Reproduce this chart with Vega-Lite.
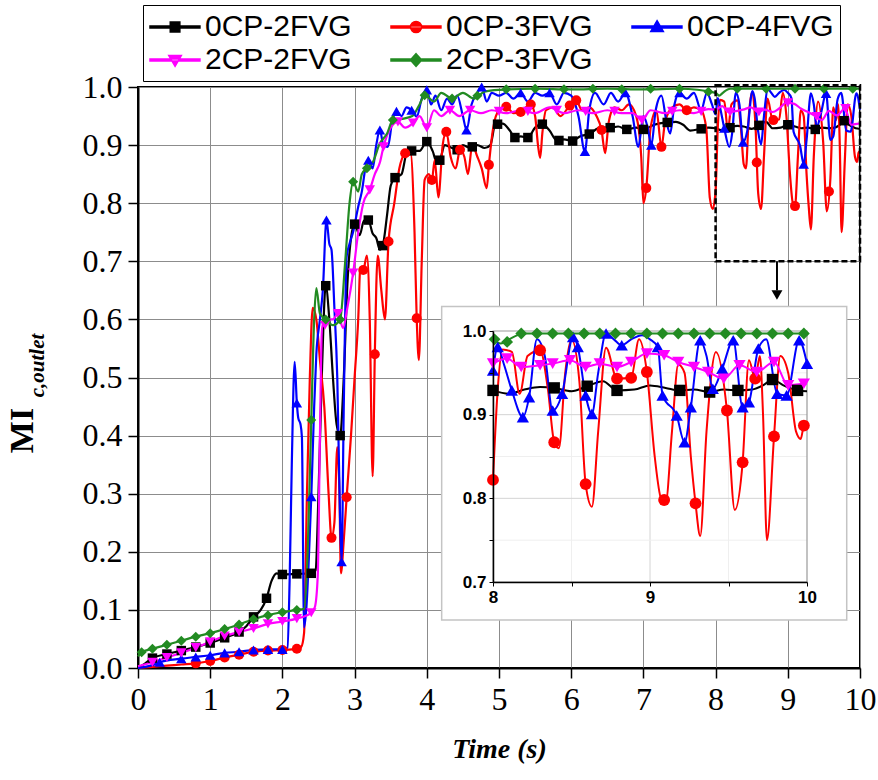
{
"$schema": "https://vega.github.io/schema/vega-lite/v6.json",
"width": 722, "height": 581,
"autosize": "none",
"padding": {"left": 138, "top": 87, "right": 18, "bottom": 112},
"background": "white",
"config": {"view": {"stroke": "black", "strokeWidth": 2}, "axis": {"domainColor": "black", "domainWidth": 2, "tickColor": "black", "tickWidth": 1.5, "labelColor": "black", "titleColor": "black"}},
"datasets": {
"ln": [
{"s":"0CP-2FVG","t":0,"v":0},{"s":"0CP-2FVG","t":0.1,"v":0.008},{"s":"0CP-2FVG","t":0.2,"v":0.017},{"s":"0CP-2FVG","t":0.4,"v":0.024},{"s":"0CP-2FVG","t":0.6,"v":0.03},{"s":"0CP-2FVG","t":0.8,"v":0.036},{"s":"0CP-2FVG","t":1.0,"v":0.043},{"s":"0CP-2FVG","t":1.2,"v":0.052},{"s":"0CP-2FVG","t":1.4,"v":0.062},{"s":"0CP-2FVG","t":1.5,"v":0.072},{"s":"0CP-2FVG","t":1.6,"v":0.088},{"s":"0CP-2FVG","t":1.7,"v":0.1},{"s":"0CP-2FVG","t":1.78,"v":0.12},{"s":"0CP-2FVG","t":1.85,"v":0.15},{"s":"0CP-2FVG","t":1.92,"v":0.163},{"s":"0CP-2FVG","t":2.0,"v":0.161},{"s":"0CP-2FVG","t":2.2,"v":0.162},{"s":"0CP-2FVG","t":2.4,"v":0.163},{"s":"0CP-2FVG","t":2.46,"v":0.168},{"s":"0CP-2FVG","t":2.5,"v":0.3},{"s":"0CP-2FVG","t":2.55,"v":0.52},{"s":"0CP-2FVG","t":2.6,"v":0.658},{"s":"0CP-2FVG","t":2.65,"v":0.6},{"s":"0CP-2FVG","t":2.7,"v":0.5},{"s":"0CP-2FVG","t":2.75,"v":0.42},{"s":"0CP-2FVG","t":2.8,"v":0.4},{"s":"0CP-2FVG","t":2.85,"v":0.5},{"s":"0CP-2FVG","t":2.9,"v":0.66},{"s":"0CP-2FVG","t":2.95,"v":0.74},{"s":"0CP-2FVG","t":3.0,"v":0.764},{"s":"0CP-2FVG","t":3.07,"v":0.745},{"s":"0CP-2FVG","t":3.13,"v":0.77},{"s":"0CP-2FVG","t":3.19,"v":0.771},{"s":"0CP-2FVG","t":3.25,"v":0.748},{"s":"0CP-2FVG","t":3.3,"v":0.74},{"s":"0CP-2FVG","t":3.35,"v":0.72},{"s":"0CP-2FVG","t":3.39,"v":0.727},{"s":"0CP-2FVG","t":3.45,"v":0.78},{"s":"0CP-2FVG","t":3.5,"v":0.83},{"s":"0CP-2FVG","t":3.56,"v":0.844},{"s":"0CP-2FVG","t":3.65,"v":0.85},{"s":"0CP-2FVG","t":3.72,"v":0.885},{"s":"0CP-2FVG","t":3.79,"v":0.89},{"s":"0CP-2FVG","t":3.9,"v":0.89},{"s":"0CP-2FVG","t":4.0,"v":0.906},{"s":"0CP-2FVG","t":4.08,"v":0.89},{"s":"0CP-2FVG","t":4.14,"v":0.87},{"s":"0CP-2FVG","t":4.18,"v":0.874},{"s":"0CP-2FVG","t":4.25,"v":0.9},{"s":"0CP-2FVG","t":4.35,"v":0.895},{"s":"0CP-2FVG","t":4.42,"v":0.892},{"s":"0CP-2FVG","t":4.5,"v":0.9},{"s":"0CP-2FVG","t":4.6,"v":0.895},{"s":"0CP-2FVG","t":4.7,"v":0.9},{"s":"0CP-2FVG","t":4.8,"v":0.895},{"s":"0CP-2FVG","t":4.88,"v":0.9},{"s":"0CP-2FVG","t":4.95,"v":0.936},{"s":"0CP-2FVG","t":5.05,"v":0.937},{"s":"0CP-2FVG","t":5.15,"v":0.925},{"s":"0CP-2FVG","t":5.22,"v":0.913},{"s":"0CP-2FVG","t":5.3,"v":0.915},{"s":"0CP-2FVG","t":5.4,"v":0.913},{"s":"0CP-2FVG","t":5.5,"v":0.93},{"s":"0CP-2FVG","t":5.6,"v":0.936},{"s":"0CP-2FVG","t":5.7,"v":0.925},{"s":"0CP-2FVG","t":5.8,"v":0.908},{"s":"0CP-2FVG","t":5.9,"v":0.91},{"s":"0CP-2FVG","t":6.02,"v":0.907},{"s":"0CP-2FVG","t":6.12,"v":0.915},{"s":"0CP-2FVG","t":6.25,"v":0.919},{"s":"0CP-2FVG","t":6.4,"v":0.93},{"s":"0CP-2FVG","t":6.54,"v":0.93},{"s":"0CP-2FVG","t":6.65,"v":0.932},{"s":"0CP-2FVG","t":6.77,"v":0.927},{"s":"0CP-2FVG","t":6.9,"v":0.93},{"s":"0CP-2FVG","t":7.0,"v":0.927},{"s":"0CP-2FVG","t":7.15,"v":0.935},{"s":"0CP-2FVG","t":7.33,"v":0.939},{"s":"0CP-2FVG","t":7.45,"v":0.94},{"s":"0CP-2FVG","t":7.55,"v":0.935},{"s":"0CP-2FVG","t":7.65,"v":0.925},{"s":"0CP-2FVG","t":7.8,"v":0.928},{"s":"0CP-2FVG","t":7.9,"v":0.93},{"s":"0CP-2FVG","t":8.0,"v":0.929},{"s":"0CP-2FVG","t":8.1,"v":0.925},{"s":"0CP-2FVG","t":8.2,"v":0.93},{"s":"0CP-2FVG","t":8.3,"v":0.933},{"s":"0CP-2FVG","t":8.39,"v":0.932},{"s":"0CP-2FVG","t":8.5,"v":0.928},{"s":"0CP-2FVG","t":8.6,"v":0.934},{"s":"0CP-2FVG","t":8.7,"v":0.94},{"s":"0CP-2FVG","t":8.79,"v":0.929},{"s":"0CP-2FVG","t":8.9,"v":0.93},{"s":"0CP-2FVG","t":9.0,"v":0.935},{"s":"0CP-2FVG","t":9.1,"v":0.932},{"s":"0CP-2FVG","t":9.19,"v":0.929},{"s":"0CP-2FVG","t":9.28,"v":0.93},{"s":"0CP-2FVG","t":9.38,"v":0.927},{"s":"0CP-2FVG","t":9.47,"v":0.93},{"s":"0CP-2FVG","t":9.56,"v":0.929},{"s":"0CP-2FVG","t":9.65,"v":0.93},{"s":"0CP-2FVG","t":9.72,"v":0.935},{"s":"0CP-2FVG","t":9.78,"v":0.942},{"s":"0CP-2FVG","t":9.85,"v":0.935},{"s":"0CP-2FVG","t":9.94,"v":0.929},{"s":"0CP-2FVG","t":10,"v":0.928},
{"s":"0CP-3FVG","t":0,"v":0},{"s":"0CP-3FVG","t":0.2,"v":0.002},{"s":"0CP-3FVG","t":0.4,"v":0.004},{"s":"0CP-3FVG","t":0.6,"v":0.006},{"s":"0CP-3FVG","t":0.8,"v":0.008},{"s":"0CP-3FVG","t":1.0,"v":0.012},{"s":"0CP-3FVG","t":1.2,"v":0.018},{"s":"0CP-3FVG","t":1.4,"v":0.023},{"s":"0CP-3FVG","t":1.6,"v":0.028},{"s":"0CP-3FVG","t":1.8,"v":0.03},{"s":"0CP-3FVG","t":2.0,"v":0.031},{"s":"0CP-3FVG","t":2.2,"v":0.033},{"s":"0CP-3FVG","t":2.26,"v":0.036},{"s":"0CP-3FVG","t":2.3,"v":0.06},{"s":"0CP-3FVG","t":2.34,"v":0.3},{"s":"0CP-3FVG","t":2.38,"v":0.5},{"s":"0CP-3FVG","t":2.42,"v":0.62},{"s":"0CP-3FVG","t":2.47,"v":0.6},{"s":"0CP-3FVG","t":2.52,"v":0.53},{"s":"0CP-3FVG","t":2.58,"v":0.45},{"s":"0CP-3FVG","t":2.64,"v":0.3},{"s":"0CP-3FVG","t":2.68,"v":0.224},{"s":"0CP-3FVG","t":2.72,"v":0.25},{"s":"0CP-3FVG","t":2.76,"v":0.38},{"s":"0CP-3FVG","t":2.79,"v":0.3},{"s":"0CP-3FVG","t":2.81,"v":0.163},{"s":"0CP-3FVG","t":2.85,"v":0.22},{"s":"0CP-3FVG","t":2.89,"v":0.294},{"s":"0CP-3FVG","t":2.95,"v":0.4},{"s":"0CP-3FVG","t":3.0,"v":0.5},{"s":"0CP-3FVG","t":3.05,"v":0.6},{"s":"0CP-3FVG","t":3.08,"v":0.69},{"s":"0CP-3FVG","t":3.12,"v":0.685},{"s":"0CP-3FVG","t":3.17,"v":0.71},{"s":"0CP-3FVG","t":3.21,"v":0.6},{"s":"0CP-3FVG","t":3.25,"v":0.33},{"s":"0CP-3FVG","t":3.28,"v":0.54},{"s":"0CP-3FVG","t":3.32,"v":0.71},{"s":"0CP-3FVG","t":3.37,"v":0.65},{"s":"0CP-3FVG","t":3.42,"v":0.6},{"s":"0CP-3FVG","t":3.47,"v":0.734},{"s":"0CP-3FVG","t":3.55,"v":0.8},{"s":"0CP-3FVG","t":3.62,"v":0.86},{"s":"0CP-3FVG","t":3.7,"v":0.886},{"s":"0CP-3FVG","t":3.77,"v":0.89},{"s":"0CP-3FVG","t":3.83,"v":0.75},{"s":"0CP-3FVG","t":3.86,"v":0.602},{"s":"0CP-3FVG","t":3.89,"v":0.53},{"s":"0CP-3FVG","t":3.93,"v":0.7},{"s":"0CP-3FVG","t":3.97,"v":0.84},{"s":"0CP-3FVG","t":4.03,"v":0.85},{"s":"0CP-3FVG","t":4.07,"v":0.84},{"s":"0CP-3FVG","t":4.11,"v":0.874},{"s":"0CP-3FVG","t":4.16,"v":0.81},{"s":"0CP-3FVG","t":4.22,"v":0.9},{"s":"0CP-3FVG","t":4.27,"v":0.923},{"s":"0CP-3FVG","t":4.33,"v":0.88},{"s":"0CP-3FVG","t":4.4,"v":0.86},{"s":"0CP-3FVG","t":4.46,"v":0.892},{"s":"0CP-3FVG","t":4.52,"v":0.88},{"s":"0CP-3FVG","t":4.57,"v":0.85},{"s":"0CP-3FVG","t":4.63,"v":0.9},{"s":"0CP-3FVG","t":4.7,"v":0.88},{"s":"0CP-3FVG","t":4.76,"v":0.86},{"s":"0CP-3FVG","t":4.83,"v":0.826},{"s":"0CP-3FVG","t":4.86,"v":0.866},{"s":"0CP-3FVG","t":4.92,"v":0.93},{"s":"0CP-3FVG","t":5.0,"v":0.96},{"s":"0CP-3FVG","t":5.1,"v":0.966},{"s":"0CP-3FVG","t":5.2,"v":0.955},{"s":"0CP-3FVG","t":5.3,"v":0.957},{"s":"0CP-3FVG","t":5.37,"v":0.965},{"s":"0CP-3FVG","t":5.44,"v":0.97},{"s":"0CP-3FVG","t":5.5,"v":0.95},{"s":"0CP-3FVG","t":5.54,"v":0.9},{"s":"0CP-3FVG","t":5.57,"v":0.878},{"s":"0CP-3FVG","t":5.6,"v":0.92},{"s":"0CP-3FVG","t":5.65,"v":0.96},{"s":"0CP-3FVG","t":5.75,"v":0.965},{"s":"0CP-3FVG","t":5.85,"v":0.95},{"s":"0CP-3FVG","t":5.98,"v":0.968},{"s":"0CP-3FVG","t":6.07,"v":0.977},{"s":"0CP-3FVG","t":6.15,"v":0.96},{"s":"0CP-3FVG","t":6.25,"v":0.965},{"s":"0CP-3FVG","t":6.35,"v":0.95},{"s":"0CP-3FVG","t":6.42,"v":0.926},{"s":"0CP-3FVG","t":6.47,"v":0.886},{"s":"0CP-3FVG","t":6.52,"v":0.94},{"s":"0CP-3FVG","t":6.6,"v":0.965},{"s":"0CP-3FVG","t":6.7,"v":0.96},{"s":"0CP-3FVG","t":6.8,"v":0.97},{"s":"0CP-3FVG","t":6.9,"v":0.95},{"s":"0CP-3FVG","t":6.97,"v":0.88},{"s":"0CP-3FVG","t":7.0,"v":0.8},{"s":"0CP-3FVG","t":7.04,"v":0.826},{"s":"0CP-3FVG","t":7.1,"v":0.93},{"s":"0CP-3FVG","t":7.18,"v":0.96},{"s":"0CP-3FVG","t":7.25,"v":0.897},{"s":"0CP-3FVG","t":7.3,"v":0.94},{"s":"0CP-3FVG","t":7.4,"v":0.965},{"s":"0CP-3FVG","t":7.5,"v":0.97},{"s":"0CP-3FVG","t":7.6,"v":0.96},{"s":"0CP-3FVG","t":7.7,"v":0.965},{"s":"0CP-3FVG","t":7.8,"v":0.96},{"s":"0CP-3FVG","t":7.87,"v":0.93},{"s":"0CP-3FVG","t":7.92,"v":0.809},{"s":"0CP-3FVG","t":7.96,"v":0.79},{"s":"0CP-3FVG","t":8.0,"v":0.822},{"s":"0CP-3FVG","t":8.03,"v":0.93},{"s":"0CP-3FVG","t":8.06,"v":0.978},{"s":"0CP-3FVG","t":8.12,"v":0.975},{"s":"0CP-3FVG","t":8.17,"v":0.925},{"s":"0CP-3FVG","t":8.22,"v":0.97},{"s":"0CP-3FVG","t":8.3,"v":0.977},{"s":"0CP-3FVG","t":8.35,"v":0.93},{"s":"0CP-3FVG","t":8.39,"v":0.867},{"s":"0CP-3FVG","t":8.42,"v":0.86},{"s":"0CP-3FVG","t":8.46,"v":0.95},{"s":"0CP-3FVG","t":8.5,"v":0.99},{"s":"0CP-3FVG","t":8.55,"v":0.94},{"s":"0CP-3FVG","t":8.59,"v":0.817},{"s":"0CP-3FVG","t":8.63,"v":0.79},{"s":"0CP-3FVG","t":8.67,"v":0.88},{"s":"0CP-3FVG","t":8.72,"v":0.98},{"s":"0CP-3FVG","t":8.79,"v":0.943},{"s":"0CP-3FVG","t":8.88,"v":0.944},{"s":"0CP-3FVG","t":8.93,"v":0.99},{"s":"0CP-3FVG","t":8.98,"v":0.951},{"s":"0CP-3FVG","t":9.03,"v":0.85},{"s":"0CP-3FVG","t":9.07,"v":0.8},{"s":"0CP-3FVG","t":9.1,"v":0.795},{"s":"0CP-3FVG","t":9.14,"v":0.88},{"s":"0CP-3FVG","t":9.18,"v":0.96},{"s":"0CP-3FVG","t":9.22,"v":0.95},{"s":"0CP-3FVG","t":9.26,"v":0.85},{"s":"0CP-3FVG","t":9.29,"v":0.794},{"s":"0CP-3FVG","t":9.32,"v":0.755},{"s":"0CP-3FVG","t":9.36,"v":0.88},{"s":"0CP-3FVG","t":9.42,"v":0.975},{"s":"0CP-3FVG","t":9.49,"v":0.905},{"s":"0CP-3FVG","t":9.54,"v":0.786},{"s":"0CP-3FVG","t":9.59,"v":0.843},{"s":"0CP-3FVG","t":9.63,"v":0.965},{"s":"0CP-3FVG","t":9.67,"v":0.943},{"s":"0CP-3FVG","t":9.7,"v":0.97},{"s":"0CP-3FVG","t":9.72,"v":0.9},{"s":"0CP-3FVG","t":9.745,"v":0.75},{"s":"0CP-3FVG","t":9.79,"v":0.874},{"s":"0CP-3FVG","t":9.83,"v":0.97},{"s":"0CP-3FVG","t":9.88,"v":0.95},{"s":"0CP-3FVG","t":9.93,"v":0.88},{"s":"0CP-3FVG","t":9.96,"v":0.871},{"s":"0CP-3FVG","t":9.98,"v":0.887},{"s":"0CP-3FVG","t":10,"v":0.89},
{"s":"0CP-4FVG","t":0,"v":0},{"s":"0CP-4FVG","t":0.2,"v":0.005},{"s":"0CP-4FVG","t":0.3,"v":0.01},{"s":"0CP-4FVG","t":0.6,"v":0.016},{"s":"0CP-4FVG","t":0.8,"v":0.019},{"s":"0CP-4FVG","t":1.0,"v":0.022},{"s":"0CP-4FVG","t":1.2,"v":0.026},{"s":"0CP-4FVG","t":1.4,"v":0.028},{"s":"0CP-4FVG","t":1.6,"v":0.031},{"s":"0CP-4FVG","t":1.8,"v":0.032},{"s":"0CP-4FVG","t":2.0,"v":0.032},{"s":"0CP-4FVG","t":2.07,"v":0.035},{"s":"0CP-4FVG","t":2.1,"v":0.15},{"s":"0CP-4FVG","t":2.13,"v":0.35},{"s":"0CP-4FVG","t":2.17,"v":0.527},{"s":"0CP-4FVG","t":2.2,"v":0.456},{"s":"0CP-4FVG","t":2.22,"v":0.43},{"s":"0CP-4FVG","t":2.25,"v":0.42},{"s":"0CP-4FVG","t":2.27,"v":0.398},{"s":"0CP-4FVG","t":2.3,"v":0.07},{"s":"0CP-4FVG","t":2.33,"v":0.1},{"s":"0CP-4FVG","t":2.37,"v":0.2},{"s":"0CP-4FVG","t":2.4,"v":0.295},{"s":"0CP-4FVG","t":2.44,"v":0.45},{"s":"0CP-4FVG","t":2.47,"v":0.54},{"s":"0CP-4FVG","t":2.52,"v":0.6},{"s":"0CP-4FVG","t":2.56,"v":0.65},{"s":"0CP-4FVG","t":2.61,"v":0.771},{"s":"0CP-4FVG","t":2.65,"v":0.73},{"s":"0CP-4FVG","t":2.68,"v":0.72},{"s":"0CP-4FVG","t":2.72,"v":0.62},{"s":"0CP-4FVG","t":2.76,"v":0.5},{"s":"0CP-4FVG","t":2.8,"v":0.25},{"s":"0CP-4FVG","t":2.82,"v":0.183},{"s":"0CP-4FVG","t":2.85,"v":0.45},{"s":"0CP-4FVG","t":2.89,"v":0.708},{"s":"0CP-4FVG","t":2.93,"v":0.73},{"s":"0CP-4FVG","t":2.98,"v":0.751},{"s":"0CP-4FVG","t":3.05,"v":0.794},{"s":"0CP-4FVG","t":3.1,"v":0.82},{"s":"0CP-4FVG","t":3.15,"v":0.86},{"s":"0CP-4FVG","t":3.19,"v":0.874},{"s":"0CP-4FVG","t":3.25,"v":0.86},{"s":"0CP-4FVG","t":3.3,"v":0.9},{"s":"0CP-4FVG","t":3.35,"v":0.926},{"s":"0CP-4FVG","t":3.4,"v":0.9},{"s":"0CP-4FVG","t":3.46,"v":0.897},{"s":"0CP-4FVG","t":3.52,"v":0.94},{"s":"0CP-4FVG","t":3.58,"v":0.958},{"s":"0CP-4FVG","t":3.65,"v":0.95},{"s":"0CP-4FVG","t":3.72,"v":0.965},{"s":"0CP-4FVG","t":3.79,"v":0.96},{"s":"0CP-4FVG","t":3.86,"v":0.949},{"s":"0CP-4FVG","t":3.93,"v":0.98},{"s":"0CP-4FVG","t":4.0,"v":0.995},{"s":"0CP-4FVG","t":4.06,"v":0.97},{"s":"0CP-4FVG","t":4.12,"v":0.985},{"s":"0CP-4FVG","t":4.2,"v":0.96},{"s":"0CP-4FVG","t":4.28,"v":0.98},{"s":"0CP-4FVG","t":4.35,"v":0.97},{"s":"0CP-4FVG","t":4.42,"v":0.985},{"s":"0CP-4FVG","t":4.5,"v":0.95},{"s":"0CP-4FVG","t":4.55,"v":0.926},{"s":"0CP-4FVG","t":4.62,"v":0.97},{"s":"0CP-4FVG","t":4.7,"v":0.99},{"s":"0CP-4FVG","t":4.76,"v":1.0},{"s":"0CP-4FVG","t":4.83,"v":0.975},{"s":"0CP-4FVG","t":4.9,"v":0.99},{"s":"0CP-4FVG","t":5.0,"v":0.985},{"s":"0CP-4FVG","t":5.1,"v":0.99},{"s":"0CP-4FVG","t":5.2,"v":0.98},{"s":"0CP-4FVG","t":5.3,"v":0.99},{"s":"0CP-4FVG","t":5.4,"v":0.975},{"s":"0CP-4FVG","t":5.5,"v":0.99},{"s":"0CP-4FVG","t":5.6,"v":0.985},{"s":"0CP-4FVG","t":5.7,"v":0.99},{"s":"0CP-4FVG","t":5.8,"v":0.97},{"s":"0CP-4FVG","t":5.9,"v":0.99},{"s":"0CP-4FVG","t":6.0,"v":0.985},{"s":"0CP-4FVG","t":6.1,"v":0.95},{"s":"0CP-4FVG","t":6.19,"v":0.889},{"s":"0CP-4FVG","t":6.25,"v":0.96},{"s":"0CP-4FVG","t":6.33,"v":0.99},{"s":"0CP-4FVG","t":6.45,"v":0.97},{"s":"0CP-4FVG","t":6.55,"v":0.99},{"s":"0CP-4FVG","t":6.65,"v":0.975},{"s":"0CP-4FVG","t":6.75,"v":0.99},{"s":"0CP-4FVG","t":6.85,"v":0.95},{"s":"0CP-4FVG","t":6.93,"v":0.897},{"s":"0CP-4FVG","t":7.0,"v":0.95},{"s":"0CP-4FVG","t":7.06,"v":0.93},{"s":"0CP-4FVG","t":7.11,"v":0.9},{"s":"0CP-4FVG","t":7.17,"v":0.96},{"s":"0CP-4FVG","t":7.25,"v":0.985},{"s":"0CP-4FVG","t":7.32,"v":0.94},{"s":"0CP-4FVG","t":7.37,"v":0.92},{"s":"0CP-4FVG","t":7.43,"v":0.97},{"s":"0CP-4FVG","t":7.5,"v":0.99},{"s":"0CP-4FVG","t":7.6,"v":0.98},{"s":"0CP-4FVG","t":7.7,"v":0.99},{"s":"0CP-4FVG","t":7.8,"v":0.96},{"s":"0CP-4FVG","t":7.88,"v":0.99},{"s":"0CP-4FVG","t":7.95,"v":0.97},{"s":"0CP-4FVG","t":8.0,"v":0.953},{"s":"0CP-4FVG","t":8.03,"v":0.981},{"s":"0CP-4FVG","t":8.07,"v":0.96},{"s":"0CP-4FVG","t":8.12,"v":0.929},{"s":"0CP-4FVG","t":8.19,"v":0.897},{"s":"0CP-4FVG","t":8.23,"v":0.921},{"s":"0CP-4FVG","t":8.28,"v":0.99},{"s":"0CP-4FVG","t":8.33,"v":0.97},{"s":"0CP-4FVG","t":8.38,"v":0.905},{"s":"0CP-4FVG","t":8.44,"v":0.925},{"s":"0CP-4FVG","t":8.51,"v":0.993},{"s":"0CP-4FVG","t":8.54,"v":0.981},{"s":"0CP-4FVG","t":8.59,"v":0.923},{"s":"0CP-4FVG","t":8.63,"v":0.901},{"s":"0CP-4FVG","t":8.67,"v":0.95},{"s":"0CP-4FVG","t":8.72,"v":0.997},{"s":"0CP-4FVG","t":8.77,"v":0.99},{"s":"0CP-4FVG","t":8.82,"v":0.983},{"s":"0CP-4FVG","t":8.88,"v":0.99},{"s":"0CP-4FVG","t":8.95,"v":0.995},{"s":"0CP-4FVG","t":9.0,"v":0.99},{"s":"0CP-4FVG","t":9.05,"v":0.981},{"s":"0CP-4FVG","t":9.08,"v":0.923},{"s":"0CP-4FVG","t":9.17,"v":0.899},{"s":"0CP-4FVG","t":9.22,"v":0.867},{"s":"0CP-4FVG","t":9.26,"v":0.909},{"s":"0CP-4FVG","t":9.32,"v":0.989},{"s":"0CP-4FVG","t":9.36,"v":0.97},{"s":"0CP-4FVG","t":9.4,"v":0.931},{"s":"0CP-4FVG","t":9.46,"v":0.955},{"s":"0CP-4FVG","t":9.53,"v":0.989},{"s":"0CP-4FVG","t":9.59,"v":0.909},{"s":"0CP-4FVG","t":9.63,"v":0.915},{"s":"0CP-4FVG","t":9.69,"v":0.979},{"s":"0CP-4FVG","t":9.74,"v":0.99},{"s":"0CP-4FVG","t":9.81,"v":0.925},{"s":"0CP-4FVG","t":9.87,"v":0.923},{"s":"0CP-4FVG","t":9.95,"v":0.989},{"s":"0CP-4FVG","t":10,"v":0.961},
{"s":"2CP-2FVG","t":0,"v":0.003},{"s":"2CP-2FVG","t":0.2,"v":0.01},{"s":"2CP-2FVG","t":0.4,"v":0.018},{"s":"2CP-2FVG","t":0.6,"v":0.026},{"s":"2CP-2FVG","t":0.8,"v":0.035},{"s":"2CP-2FVG","t":1.0,"v":0.045},{"s":"2CP-2FVG","t":1.2,"v":0.055},{"s":"2CP-2FVG","t":1.4,"v":0.062},{"s":"2CP-2FVG","t":1.6,"v":0.068},{"s":"2CP-2FVG","t":1.8,"v":0.076},{"s":"2CP-2FVG","t":2.0,"v":0.08},{"s":"2CP-2FVG","t":2.2,"v":0.085},{"s":"2CP-2FVG","t":2.4,"v":0.095},{"s":"2CP-2FVG","t":2.45,"v":0.105},{"s":"2CP-2FVG","t":2.49,"v":0.16},{"s":"2CP-2FVG","t":2.52,"v":0.4},{"s":"2CP-2FVG","t":2.55,"v":0.59},{"s":"2CP-2FVG","t":2.59,"v":0.59},{"s":"2CP-2FVG","t":2.65,"v":0.6},{"s":"2CP-2FVG","t":2.7,"v":0.6},{"s":"2CP-2FVG","t":2.77,"v":0.61},{"s":"2CP-2FVG","t":2.84,"v":0.585},{"s":"2CP-2FVG","t":2.9,"v":0.62},{"s":"2CP-2FVG","t":2.98,"v":0.68},{"s":"2CP-2FVG","t":3.05,"v":0.75},{"s":"2CP-2FVG","t":3.12,"v":0.8},{"s":"2CP-2FVG","t":3.21,"v":0.823},{"s":"2CP-2FVG","t":3.28,"v":0.85},{"s":"2CP-2FVG","t":3.35,"v":0.87},{"s":"2CP-2FVG","t":3.4,"v":0.897},{"s":"2CP-2FVG","t":3.5,"v":0.93},{"s":"2CP-2FVG","t":3.6,"v":0.94},{"s":"2CP-2FVG","t":3.7,"v":0.93},{"s":"2CP-2FVG","t":3.81,"v":0.938},{"s":"2CP-2FVG","t":3.9,"v":0.95},{"s":"2CP-2FVG","t":4.0,"v":0.93},{"s":"2CP-2FVG","t":4.1,"v":0.96},{"s":"2CP-2FVG","t":4.2,"v":0.95},{"s":"2CP-2FVG","t":4.32,"v":0.96},{"s":"2CP-2FVG","t":4.45,"v":0.95},{"s":"2CP-2FVG","t":4.6,"v":0.96},{"s":"2CP-2FVG","t":4.75,"v":0.955},{"s":"2CP-2FVG","t":4.9,"v":0.96},{"s":"2CP-2FVG","t":5.1,"v":0.955},{"s":"2CP-2FVG","t":5.3,"v":0.96},{"s":"2CP-2FVG","t":5.5,"v":0.955},{"s":"2CP-2FVG","t":5.7,"v":0.965},{"s":"2CP-2FVG","t":5.9,"v":0.955},{"s":"2CP-2FVG","t":6.1,"v":0.96},{"s":"2CP-2FVG","t":6.3,"v":0.955},{"s":"2CP-2FVG","t":6.5,"v":0.96},{"s":"2CP-2FVG","t":6.7,"v":0.955},{"s":"2CP-2FVG","t":6.85,"v":0.955},{"s":"2CP-2FVG","t":6.98,"v":0.943},{"s":"2CP-2FVG","t":7.1,"v":0.96},{"s":"2CP-2FVG","t":7.3,"v":0.955},{"s":"2CP-2FVG","t":7.5,"v":0.96},{"s":"2CP-2FVG","t":7.7,"v":0.955},{"s":"2CP-2FVG","t":7.9,"v":0.962},{"s":"2CP-2FVG","t":8.0,"v":0.961},{"s":"2CP-2FVG","t":8.09,"v":0.967},{"s":"2CP-2FVG","t":8.18,"v":0.957},{"s":"2CP-2FVG","t":8.3,"v":0.959},{"s":"2CP-2FVG","t":8.38,"v":0.961},{"s":"2CP-2FVG","t":8.49,"v":0.965},{"s":"2CP-2FVG","t":8.59,"v":0.957},{"s":"2CP-2FVG","t":8.68,"v":0.961},{"s":"2CP-2FVG","t":8.79,"v":0.957},{"s":"2CP-2FVG","t":8.88,"v":0.963},{"s":"2CP-2FVG","t":8.98,"v":0.973},{"s":"2CP-2FVG","t":9.09,"v":0.971},{"s":"2CP-2FVG","t":9.18,"v":0.963},{"s":"2CP-2FVG","t":9.28,"v":0.957},{"s":"2CP-2FVG","t":9.37,"v":0.951},{"s":"2CP-2FVG","t":9.47,"v":0.943},{"s":"2CP-2FVG","t":9.57,"v":0.959},{"s":"2CP-2FVG","t":9.68,"v":0.951},{"s":"2CP-2FVG","t":9.79,"v":0.963},{"s":"2CP-2FVG","t":9.88,"v":0.935},{"s":"2CP-2FVG","t":9.98,"v":0.937},{"s":"2CP-2FVG","t":10,"v":0.937},
{"s":"2CP-3FVG","t":0,"v":0.02},{"s":"2CP-3FVG","t":0.05,"v":0.027},{"s":"2CP-3FVG","t":0.2,"v":0.033},{"s":"2CP-3FVG","t":0.4,"v":0.04},{"s":"2CP-3FVG","t":0.6,"v":0.047},{"s":"2CP-3FVG","t":0.8,"v":0.054},{"s":"2CP-3FVG","t":1.0,"v":0.06},{"s":"2CP-3FVG","t":1.2,"v":0.067},{"s":"2CP-3FVG","t":1.4,"v":0.075},{"s":"2CP-3FVG","t":1.6,"v":0.084},{"s":"2CP-3FVG","t":1.8,"v":0.091},{"s":"2CP-3FVG","t":2.0,"v":0.096},{"s":"2CP-3FVG","t":2.2,"v":0.1},{"s":"2CP-3FVG","t":2.3,"v":0.102},{"s":"2CP-3FVG","t":2.35,"v":0.2},{"s":"2CP-3FVG","t":2.4,"v":0.427},{"s":"2CP-3FVG","t":2.44,"v":0.6},{"s":"2CP-3FVG","t":2.47,"v":0.654},{"s":"2CP-3FVG","t":2.52,"v":0.61},{"s":"2CP-3FVG","t":2.6,"v":0.6},{"s":"2CP-3FVG","t":2.7,"v":0.59},{"s":"2CP-3FVG","t":2.8,"v":0.6},{"s":"2CP-3FVG","t":2.87,"v":0.7},{"s":"2CP-3FVG","t":2.93,"v":0.8},{"s":"2CP-3FVG","t":2.98,"v":0.837},{"s":"2CP-3FVG","t":3.05,"v":0.82},{"s":"2CP-3FVG","t":3.1,"v":0.85},{"s":"2CP-3FVG","t":3.17,"v":0.86},{"s":"2CP-3FVG","t":3.25,"v":0.87},{"s":"2CP-3FVG","t":3.35,"v":0.903},{"s":"2CP-3FVG","t":3.45,"v":0.92},{"s":"2CP-3FVG","t":3.53,"v":0.943},{"s":"2CP-3FVG","t":3.65,"v":0.945},{"s":"2CP-3FVG","t":3.8,"v":0.95},{"s":"2CP-3FVG","t":3.9,"v":0.97},{"s":"2CP-3FVG","t":3.97,"v":0.986},{"s":"2CP-3FVG","t":4.1,"v":0.975},{"s":"2CP-3FVG","t":4.2,"v":0.99},{"s":"2CP-3FVG","t":4.35,"v":0.98},{"s":"2CP-3FVG","t":4.5,"v":0.99},{"s":"2CP-3FVG","t":4.65,"v":0.98},{"s":"2CP-3FVG","t":4.8,"v":0.992},{"s":"2CP-3FVG","t":5.0,"v":0.995},{"s":"2CP-3FVG","t":5.5,"v":0.997},{"s":"2CP-3FVG","t":6.0,"v":0.996},{"s":"2CP-3FVG","t":6.5,"v":0.997},{"s":"2CP-3FVG","t":7.0,"v":0.996},{"s":"2CP-3FVG","t":7.5,"v":0.997},{"s":"2CP-3FVG","t":8.0,"v":0.99},{"s":"2CP-3FVG","t":8.05,"v":0.985},{"s":"2CP-3FVG","t":8.1,"v":0.99},{"s":"2CP-3FVG","t":8.2,"v":0.997},{"s":"2CP-3FVG","t":8.5,"v":0.997},{"s":"2CP-3FVG","t":9.0,"v":0.997},{"s":"2CP-3FVG","t":9.5,"v":0.997},{"s":"2CP-3FVG","t":10,"v":0.997}
],
"mm": [
{"s":"0CP-2FVG","t":0.2,"v":0.017},{"s":"0CP-2FVG","t":0.4,"v":0.024},{"s":"0CP-2FVG","t":0.6,"v":0.03},{"s":"0CP-2FVG","t":0.8,"v":0.036},{"s":"0CP-2FVG","t":1.0,"v":0.043},{"s":"0CP-2FVG","t":1.2,"v":0.052},{"s":"0CP-2FVG","t":1.4,"v":0.062},{"s":"0CP-2FVG","t":1.6,"v":0.088},{"s":"0CP-2FVG","t":1.78,"v":0.12},{"s":"0CP-2FVG","t":2.0,"v":0.161},{"s":"0CP-2FVG","t":2.2,"v":0.162},{"s":"0CP-2FVG","t":2.4,"v":0.163},{"s":"0CP-2FVG","t":2.6,"v":0.658},{"s":"0CP-2FVG","t":2.8,"v":0.4},{"s":"0CP-2FVG","t":3.0,"v":0.764},{"s":"0CP-2FVG","t":3.19,"v":0.771},{"s":"0CP-2FVG","t":3.39,"v":0.727},{"s":"0CP-2FVG","t":3.56,"v":0.844},{"s":"0CP-2FVG","t":3.79,"v":0.89},{"s":"0CP-2FVG","t":4.0,"v":0.906},{"s":"0CP-2FVG","t":4.18,"v":0.874},{"s":"0CP-2FVG","t":4.42,"v":0.892},{"s":"0CP-2FVG","t":4.63,"v":0.897},{"s":"0CP-2FVG","t":4.98,"v":0.936},{"s":"0CP-2FVG","t":5.22,"v":0.913},{"s":"0CP-2FVG","t":5.4,"v":0.913},{"s":"0CP-2FVG","t":5.6,"v":0.936},{"s":"0CP-2FVG","t":5.83,"v":0.908},{"s":"0CP-2FVG","t":6.02,"v":0.907},{"s":"0CP-2FVG","t":6.25,"v":0.919},{"s":"0CP-2FVG","t":6.54,"v":0.93},{"s":"0CP-2FVG","t":6.77,"v":0.927},{"s":"0CP-2FVG","t":7.0,"v":0.927},{"s":"0CP-2FVG","t":7.33,"v":0.939},{"s":"0CP-2FVG","t":7.8,"v":0.928},{"s":"0CP-2FVG","t":8.2,"v":0.93},{"s":"0CP-2FVG","t":8.6,"v":0.934},{"s":"0CP-2FVG","t":9.0,"v":0.935},{"s":"0CP-2FVG","t":9.38,"v":0.927},{"s":"0CP-2FVG","t":9.78,"v":0.942},
{"s":"0CP-3FVG","t":0.8,"v":0.008},{"s":"0CP-3FVG","t":1.0,"v":0.012},{"s":"0CP-3FVG","t":1.2,"v":0.018},{"s":"0CP-3FVG","t":1.4,"v":0.023},{"s":"0CP-3FVG","t":1.6,"v":0.028},{"s":"0CP-3FVG","t":1.8,"v":0.03},{"s":"0CP-3FVG","t":2.0,"v":0.031},{"s":"0CP-3FVG","t":2.2,"v":0.033},{"s":"0CP-3FVG","t":2.68,"v":0.224},{"s":"0CP-3FVG","t":2.89,"v":0.294},{"s":"0CP-3FVG","t":3.12,"v":0.685},{"s":"0CP-3FVG","t":3.28,"v":0.54},{"s":"0CP-3FVG","t":3.47,"v":0.734},{"s":"0CP-3FVG","t":3.7,"v":0.886},{"s":"0CP-3FVG","t":3.86,"v":0.602},{"s":"0CP-3FVG","t":4.07,"v":0.84},{"s":"0CP-3FVG","t":4.27,"v":0.923},{"s":"0CP-3FVG","t":4.46,"v":0.892},{"s":"0CP-3FVG","t":4.86,"v":0.866},{"s":"0CP-3FVG","t":5.1,"v":0.966},{"s":"0CP-3FVG","t":5.3,"v":0.957},{"s":"0CP-3FVG","t":5.44,"v":0.97},{"s":"0CP-3FVG","t":5.98,"v":0.968},{"s":"0CP-3FVG","t":6.07,"v":0.977},{"s":"0CP-3FVG","t":6.42,"v":0.926},{"s":"0CP-3FVG","t":7.04,"v":0.826},{"s":"0CP-3FVG","t":7.25,"v":0.897},{"s":"0CP-3FVG","t":7.6,"v":0.96},{"s":"0CP-3FVG","t":8.57,"v":0.87},{"s":"0CP-3FVG","t":8.8,"v":0.943},{"s":"0CP-3FVG","t":9.1,"v":0.795},{"s":"0CP-3FVG","t":9.57,"v":0.82},
{"s":"0CP-4FVG","t":0.3,"v":0.01},{"s":"0CP-4FVG","t":0.6,"v":0.016},{"s":"0CP-4FVG","t":0.8,"v":0.019},{"s":"0CP-4FVG","t":1.0,"v":0.022},{"s":"0CP-4FVG","t":1.2,"v":0.026},{"s":"0CP-4FVG","t":1.4,"v":0.028},{"s":"0CP-4FVG","t":1.6,"v":0.031},{"s":"0CP-4FVG","t":1.8,"v":0.032},{"s":"0CP-4FVG","t":2.0,"v":0.032},{"s":"0CP-4FVG","t":2.2,"v":0.456},{"s":"0CP-4FVG","t":2.4,"v":0.295},{"s":"0CP-4FVG","t":2.61,"v":0.771},{"s":"0CP-4FVG","t":2.82,"v":0.183},{"s":"0CP-4FVG","t":3.19,"v":0.874},{"s":"0CP-4FVG","t":3.35,"v":0.926},{"s":"0CP-4FVG","t":3.58,"v":0.958},{"s":"0CP-4FVG","t":3.79,"v":0.96},{"s":"0CP-4FVG","t":4.0,"v":0.995},{"s":"0CP-4FVG","t":4.55,"v":0.926},{"s":"0CP-4FVG","t":4.76,"v":1.0},{"s":"0CP-4FVG","t":5.3,"v":0.99},{"s":"0CP-4FVG","t":5.7,"v":0.99},{"s":"0CP-4FVG","t":6.19,"v":0.889},{"s":"0CP-4FVG","t":6.75,"v":0.99},{"s":"0CP-4FVG","t":7.11,"v":0.9},{"s":"0CP-4FVG","t":7.5,"v":0.99},{"s":"0CP-4FVG","t":8.12,"v":0.929},{"s":"0CP-4FVG","t":8.38,"v":0.905},{"s":"0CP-4FVG","t":9.22,"v":0.867},{"s":"0CP-4FVG","t":9.53,"v":0.989},
{"s":"2CP-2FVG","t":0.2,"v":0.01},{"s":"2CP-2FVG","t":0.4,"v":0.018},{"s":"2CP-2FVG","t":0.6,"v":0.026},{"s":"2CP-2FVG","t":0.8,"v":0.035},{"s":"2CP-2FVG","t":1.0,"v":0.045},{"s":"2CP-2FVG","t":1.2,"v":0.055},{"s":"2CP-2FVG","t":1.4,"v":0.062},{"s":"2CP-2FVG","t":1.6,"v":0.068},{"s":"2CP-2FVG","t":1.8,"v":0.076},{"s":"2CP-2FVG","t":2.0,"v":0.08},{"s":"2CP-2FVG","t":2.2,"v":0.085},{"s":"2CP-2FVG","t":2.4,"v":0.095},{"s":"2CP-2FVG","t":2.59,"v":0.59},{"s":"2CP-2FVG","t":2.77,"v":0.61},{"s":"2CP-2FVG","t":2.98,"v":0.68},{"s":"2CP-2FVG","t":3.21,"v":0.823},{"s":"2CP-2FVG","t":3.4,"v":0.897},{"s":"2CP-2FVG","t":3.6,"v":0.94},{"s":"2CP-2FVG","t":3.81,"v":0.938},{"s":"2CP-2FVG","t":4.0,"v":0.93},{"s":"2CP-2FVG","t":4.32,"v":0.96},{"s":"2CP-2FVG","t":4.6,"v":0.96},{"s":"2CP-2FVG","t":5.0,"v":0.958},{"s":"2CP-2FVG","t":5.4,"v":0.958},{"s":"2CP-2FVG","t":5.8,"v":0.96},{"s":"2CP-2FVG","t":6.2,"v":0.958},{"s":"2CP-2FVG","t":6.6,"v":0.958},{"s":"2CP-2FVG","t":6.98,"v":0.943},{"s":"2CP-2FVG","t":7.4,"v":0.958},{"s":"2CP-2FVG","t":7.8,"v":0.958},{"s":"2CP-2FVG","t":8.2,"v":0.957},{"s":"2CP-2FVG","t":8.6,"v":0.957},{"s":"2CP-2FVG","t":9.0,"v":0.973},{"s":"2CP-2FVG","t":9.4,"v":0.949},{"s":"2CP-2FVG","t":9.8,"v":0.963},
{"s":"2CP-3FVG","t":0.05,"v":0.027},{"s":"2CP-3FVG","t":0.2,"v":0.033},{"s":"2CP-3FVG","t":0.4,"v":0.04},{"s":"2CP-3FVG","t":0.6,"v":0.047},{"s":"2CP-3FVG","t":0.8,"v":0.054},{"s":"2CP-3FVG","t":1.0,"v":0.06},{"s":"2CP-3FVG","t":1.2,"v":0.067},{"s":"2CP-3FVG","t":1.4,"v":0.075},{"s":"2CP-3FVG","t":1.6,"v":0.084},{"s":"2CP-3FVG","t":1.8,"v":0.091},{"s":"2CP-3FVG","t":2.0,"v":0.096},{"s":"2CP-3FVG","t":2.2,"v":0.1},{"s":"2CP-3FVG","t":2.4,"v":0.427},{"s":"2CP-3FVG","t":2.6,"v":0.6},{"s":"2CP-3FVG","t":2.8,"v":0.6},{"s":"2CP-3FVG","t":2.98,"v":0.837},{"s":"2CP-3FVG","t":3.17,"v":0.86},{"s":"2CP-3FVG","t":3.53,"v":0.943},{"s":"2CP-3FVG","t":3.97,"v":0.986},{"s":"2CP-3FVG","t":4.35,"v":0.98},{"s":"2CP-3FVG","t":4.7,"v":0.985},{"s":"2CP-3FVG","t":5.1,"v":0.996},{"s":"2CP-3FVG","t":5.5,"v":0.997},{"s":"2CP-3FVG","t":5.9,"v":0.996},{"s":"2CP-3FVG","t":6.3,"v":0.997},{"s":"2CP-3FVG","t":6.7,"v":0.996},{"s":"2CP-3FVG","t":7.1,"v":0.997},{"s":"2CP-3FVG","t":7.5,"v":0.997},{"s":"2CP-3FVG","t":7.9,"v":0.992},{"s":"2CP-3FVG","t":8.3,"v":0.997},{"s":"2CP-3FVG","t":8.7,"v":0.997},{"s":"2CP-3FVG","t":9.1,"v":0.997},{"s":"2CP-3FVG","t":9.5,"v":0.997},{"s":"2CP-3FVG","t":9.9,"v":0.997}
],
"im": [
{"s":"0CP-2FVG","t":8.0,"v":0.929},{"s":"0CP-2FVG","t":8.39,"v":0.932},{"s":"0CP-2FVG","t":8.6,"v":0.934},{"s":"0CP-2FVG","t":8.79,"v":0.929},{"s":"0CP-2FVG","t":9.19,"v":0.929},{"s":"0CP-2FVG","t":9.38,"v":0.927},{"s":"0CP-2FVG","t":9.56,"v":0.929},{"s":"0CP-2FVG","t":9.78,"v":0.942},{"s":"0CP-2FVG","t":9.94,"v":0.929},
{"s":"0CP-3FVG","t":8.0,"v":0.822},{"s":"0CP-3FVG","t":8.3,"v":0.977},{"s":"0CP-3FVG","t":8.39,"v":0.867},{"s":"0CP-3FVG","t":8.59,"v":0.817},{"s":"0CP-3FVG","t":8.79,"v":0.943},{"s":"0CP-3FVG","t":8.88,"v":0.944},{"s":"0CP-3FVG","t":8.98,"v":0.951},{"s":"0CP-3FVG","t":9.09,"v":0.798},{"s":"0CP-3FVG","t":9.29,"v":0.794},{"s":"0CP-3FVG","t":9.49,"v":0.905},{"s":"0CP-3FVG","t":9.59,"v":0.843},{"s":"0CP-3FVG","t":9.67,"v":0.943},{"s":"0CP-3FVG","t":9.79,"v":0.874},{"s":"0CP-3FVG","t":9.98,"v":0.887},
{"s":"0CP-4FVG","t":8.0,"v":0.953},{"s":"0CP-4FVG","t":8.03,"v":0.981},{"s":"0CP-4FVG","t":8.12,"v":0.929},{"s":"0CP-4FVG","t":8.19,"v":0.897},{"s":"0CP-4FVG","t":8.23,"v":0.921},{"s":"0CP-4FVG","t":8.38,"v":0.905},{"s":"0CP-4FVG","t":8.44,"v":0.925},{"s":"0CP-4FVG","t":8.51,"v":0.993},{"s":"0CP-4FVG","t":8.54,"v":0.981},{"s":"0CP-4FVG","t":8.59,"v":0.923},{"s":"0CP-4FVG","t":8.63,"v":0.901},{"s":"0CP-4FVG","t":8.72,"v":0.997},{"s":"0CP-4FVG","t":8.82,"v":0.983},{"s":"0CP-4FVG","t":9.05,"v":0.981},{"s":"0CP-4FVG","t":9.08,"v":0.923},{"s":"0CP-4FVG","t":9.17,"v":0.899},{"s":"0CP-4FVG","t":9.22,"v":0.867},{"s":"0CP-4FVG","t":9.26,"v":0.909},{"s":"0CP-4FVG","t":9.32,"v":0.989},{"s":"0CP-4FVG","t":9.4,"v":0.931},{"s":"0CP-4FVG","t":9.46,"v":0.955},{"s":"0CP-4FVG","t":9.53,"v":0.989},{"s":"0CP-4FVG","t":9.59,"v":0.909},{"s":"0CP-4FVG","t":9.63,"v":0.915},{"s":"0CP-4FVG","t":9.69,"v":0.979},{"s":"0CP-4FVG","t":9.81,"v":0.925},{"s":"0CP-4FVG","t":9.87,"v":0.923},{"s":"0CP-4FVG","t":9.95,"v":0.989},{"s":"0CP-4FVG","t":10,"v":0.961},
{"s":"2CP-2FVG","t":8.0,"v":0.961},{"s":"2CP-2FVG","t":8.09,"v":0.967},{"s":"2CP-2FVG","t":8.18,"v":0.957},{"s":"2CP-2FVG","t":8.3,"v":0.959},{"s":"2CP-2FVG","t":8.38,"v":0.961},{"s":"2CP-2FVG","t":8.49,"v":0.965},{"s":"2CP-2FVG","t":8.59,"v":0.957},{"s":"2CP-2FVG","t":8.68,"v":0.961},{"s":"2CP-2FVG","t":8.79,"v":0.957},{"s":"2CP-2FVG","t":8.88,"v":0.963},{"s":"2CP-2FVG","t":8.98,"v":0.973},{"s":"2CP-2FVG","t":9.09,"v":0.971},{"s":"2CP-2FVG","t":9.18,"v":0.963},{"s":"2CP-2FVG","t":9.28,"v":0.957},{"s":"2CP-2FVG","t":9.37,"v":0.951},{"s":"2CP-2FVG","t":9.47,"v":0.943},{"s":"2CP-2FVG","t":9.57,"v":0.959},{"s":"2CP-2FVG","t":9.68,"v":0.951},{"s":"2CP-2FVG","t":9.79,"v":0.963},{"s":"2CP-2FVG","t":9.88,"v":0.935},{"s":"2CP-2FVG","t":9.98,"v":0.937},
{"s":"2CP-3FVG","t":8.01,"v":0.99},{"s":"2CP-3FVG","t":8.09,"v":0.987},{"s":"2CP-3FVG","t":8.18,"v":0.997},{"s":"2CP-3FVG","t":8.28,"v":0.997},{"s":"2CP-3FVG","t":8.38,"v":0.997},{"s":"2CP-3FVG","t":8.48,"v":0.997},{"s":"2CP-3FVG","t":8.58,"v":0.997},{"s":"2CP-3FVG","t":8.68,"v":0.997},{"s":"2CP-3FVG","t":8.78,"v":0.997},{"s":"2CP-3FVG","t":8.88,"v":0.997},{"s":"2CP-3FVG","t":8.98,"v":0.997},{"s":"2CP-3FVG","t":9.08,"v":0.997},{"s":"2CP-3FVG","t":9.18,"v":0.997},{"s":"2CP-3FVG","t":9.28,"v":0.997},{"s":"2CP-3FVG","t":9.38,"v":0.997},{"s":"2CP-3FVG","t":9.48,"v":0.997},{"s":"2CP-3FVG","t":9.58,"v":0.997},{"s":"2CP-3FVG","t":9.68,"v":0.997},{"s":"2CP-3FVG","t":9.78,"v":0.997},{"s":"2CP-3FVG","t":9.88,"v":0.997},{"s":"2CP-3FVG","t":9.98,"v":0.997}
]
},
"layer": [
{
"layer": [
{
"data": {"name": "ln"},
"mark": {"type": "line", "strokeWidth": 2.2, "interpolate": "monotone"},
"encoding": {
"x": {"field": "t", "type": "quantitative", "scale": {"domain": [0, 10], "nice": false},
 "axis": {"values": [0,0.5,1,1.5,2,2.5,3,3.5,4,4.5,5,5.5,6,6.5,7,7.5,8,8.5,9,9.5,10], "format": "d", "labelExpr": "datum.value % 1 === 0 ? datum.label : ''", "labelFlush": false, "labelOverlap": false, "labelFont": "Liberation Serif", "labelFontSize": 32, "labelPadding": 6,
  "tickSize": {"condition": {"test": "datum.value % 1 !== 0", "value": 5}, "value": 10},
  "grid": true, "gridWidth": 1,
  "gridColor": {"condition": {"test": "datum.value % 1 !== 0", "value": "#d2d2d2"}, "value": "#8c8c8c"},
  "gridDash": {"condition": {"test": "datum.value % 1 !== 0", "value": [2, 3]}, "value": []},
  "title": "Time (s)", "titleFont": "Liberation Serif", "titleFontSize": 28, "titleFontWeight": "bold", "titleFontStyle": "italic", "titleX": 361, "titleY": 89, "titleBaseline": "alphabetic", "titleAlign": "center"}},
"y": {"field": "v", "type": "quantitative", "scale": {"domain": [0, 1], "nice": false},
 "axis": {"values": [0,0.05,0.1,0.15,0.2,0.25,0.3,0.35,0.4,0.45,0.5,0.55,0.6,0.65,0.7,0.75,0.8,0.85,0.9,0.95,1], "labelExpr": "round(datum.value*20) % 2 === 0 ? format(datum.value, '.1f') : ''", "labelOverlap": false, "labelFlush": false, "labelFont": "Liberation Serif", "labelFontSize": 32, "labelPadding": 6,
  "tickSize": {"condition": {"test": "round(datum.value*20) % 2 === 1", "value": 5}, "value": 10},
  "grid": true, "gridWidth": 1,
  "gridColor": {"condition": {"test": "round(datum.value*20) % 2 === 1", "value": "#d2d2d2"}, "value": "#8c8c8c"},
  "gridDash": {"condition": {"test": "round(datum.value*20) % 2 === 1", "value": [2, 3]}, "value": []},
  "title": "MI", "titleFont": "Liberation Serif", "titleFontSize": 34, "titleFontWeight": "bold", "titleAngle": 270, "titleX": -106, "titleY": 343, "titleAlign": "center", "titleBaseline": "alphabetic"}},
"color": {"field": "s", "type": "nominal", "scale": {"domain": ["0CP-2FVG","0CP-3FVG","0CP-4FVG","2CP-2FVG","2CP-3FVG"], "range": ["#000000","#ff0000","#0000ff","#ff00ff","#228b22"]}}
}
},
{"data": {"name": "mm"}, "transform": [{"filter": "datum.s === '0CP-2FVG'"}], "mark": {"type": "point", "shape": "square", "filled": true, "size": 90, "opacity": 1},
 "encoding": {"x": {"field": "t", "type": "quantitative"}, "y": {"field": "v", "type": "quantitative"}, "color": {"field": "s", "type": "nominal"}}},
{"data": {"name": "mm"}, "transform": [{"filter": "datum.s === '0CP-3FVG'"}], "mark": {"type": "point", "shape": "circle", "filled": true, "size": 100, "opacity": 1},
 "encoding": {"x": {"field": "t", "type": "quantitative"}, "y": {"field": "v", "type": "quantitative"}, "color": {"field": "s", "type": "nominal"}}},
{"data": {"name": "mm"}, "transform": [{"filter": "datum.s === '0CP-4FVG'"}], "mark": {"type": "point", "shape": "triangle-up", "filled": true, "size": 110, "opacity": 1},
 "encoding": {"x": {"field": "t", "type": "quantitative"}, "y": {"field": "v", "type": "quantitative"}, "color": {"field": "s", "type": "nominal"}}},
{"data": {"name": "mm"}, "transform": [{"filter": "datum.s === '2CP-2FVG'"}], "mark": {"type": "point", "shape": "triangle-down", "filled": true, "size": 110, "opacity": 1},
 "encoding": {"x": {"field": "t", "type": "quantitative"}, "y": {"field": "v", "type": "quantitative"}, "color": {"field": "s", "type": "nominal"}}},
{"data": {"name": "mm"}, "transform": [{"filter": "datum.s === '2CP-3FVG'"}], "mark": {"type": "point", "shape": "diamond", "filled": true, "size": 100, "opacity": 1},
 "encoding": {"x": {"field": "t", "type": "quantitative"}, "y": {"field": "v", "type": "quantitative"}, "color": {"field": "s", "type": "nominal"}}},
{
"data": {"name": "mm"},
"transform": [{"filter": "false"}],
"mark": {"type": "point", "filled": true},
"encoding": {"x": {"field": "t", "type": "quantitative"}, "y": {"field": "v", "type": "quantitative"},
"color": {"field": "s", "type": "nominal",
 "legend": {"orient": "none", "legendX": 5, "legendY": -82, "columns": 3, "direction": "horizontal", "title": null,
  "labelFont": "Liberation Sans", "labelFontSize": 30, "labelColor": "black", "labelOffset": 24, "labelLimit": 400,
  "symbolSize": 900, "strokeColor": "black", "fillColor": "white", "padding": 6, "columnPadding": 36, "rowPadding": 2}},
"shape": {"field": "s", "type": "nominal", "scale": {"domain": ["0CP-2FVG","0CP-3FVG","0CP-4FVG","2CP-2FVG","2CP-3FVG"], "range": [
 "M-1,-0.065H2.33V0.065H-1ZM0.35,-0.33H0.99V0.33H0.35Z",
 "M-1,-0.065H2.33V0.065H-1ZM0.3,0A0.37,0.37,0,1,0,1.04,0A0.37,0.37,0,1,0,0.3,0Z",
 "M-1,-0.065H2.33V0.065H-1ZM0.67,-0.42L1.09,0.3H0.25Z",
 "M-1,-0.065H2.33V0.065H-1ZM0.67,0.42L1.09,-0.3H0.25Z",
 "M-1,-0.065H2.33V0.065H-1ZM0.67,-0.42L1.05,0L0.67,0.42L0.29,0Z"]}}
}
}
]
},
{
"layer": [
{
"data": {"values": [{}]},
"mark": {"type": "rect", "fill": "white", "stroke": "#c4c4c4", "strokeWidth": 1.5},
"encoding": {
"x": {"datum": 4.206, "type": "quantitative", "scale": {"domain": [0, 10], "nice": false}, "axis": null},
"x2": {"datum": 9.816},
"y": {"datum": 0.622, "type": "quantitative", "scale": {"domain": [0, 1], "nice": false},
 "axis": {"orient": "left", "labels": false, "ticks": false, "domain": false, "grid": false, "title": "c,outlet", "titleFont": "Liberation Serif", "titleFontSize": 21, "titleFontWeight": "bold", "titleFontStyle": "italic", "titleAngle": 270, "titleX": -95, "titleY": 278, "titleAlign": "center", "titleBaseline": "alphabetic"}},
"y2": {"datum": 0.0826}
}
},
{
"data": {"values": [{}]},
"mark": {"type": "rect", "filled": false, "stroke": "black", "strokeWidth": 2.5, "strokeDash": [6, 3]},
"encoding": {"x": {"datum": 8, "type": "quantitative"}, "x2": {"datum": 10}, "y": {"datum": 0.7, "type": "quantitative"}, "y2": {"datum": 1.003}}
},
{
"data": {"values": [{}]},
"mark": {"type": "rule", "color": "black", "strokeWidth": 2},
"encoding": {"x": {"datum": 8.85, "type": "quantitative"}, "y": {"datum": 0.7, "type": "quantitative"}, "y2": {"datum": 0.65}}
},
{
"data": {"values": [{}]},
"mark": {"type": "point", "shape": "triangle-down", "filled": true, "color": "black", "size": 120, "opacity": 1},
"encoding": {"x": {"datum": 8.85, "type": "quantitative"}, "y": {"datum": 0.642, "type": "quantitative"}}
}
]
},
{
"layer": [
{"data": {"values": [{}]}, "mark": {"type": "rule", "color": "#efefef", "strokeWidth": 1},
 "encoding": {"x": {"datum": 8.5, "type": "quantitative", "scale": {"domain": [8, 10], "nice": false, "range": [355, 669]}}, "y": {"datum": 0.7, "type": "quantitative", "scale": {"domain": [0.7, 1.0], "nice": false, "zero": false, "range": [495, 244]}}, "y2": {"datum": 1.0}}},
{"data": {"values": [{}]}, "mark": {"type": "rule", "color": "#efefef", "strokeWidth": 1},
 "encoding": {"x": {"datum": 9.5, "type": "quantitative"}, "y": {"datum": 0.7, "type": "quantitative"}, "y2": {"datum": 1.0}}},
{"data": {"values": [{}]}, "mark": {"type": "rule", "color": "#d4d4d4", "strokeWidth": 1},
 "encoding": {"x": {"datum": 9, "type": "quantitative"}, "y": {"datum": 0.7, "type": "quantitative"}, "y2": {"datum": 1.0}}},
{"data": {"values": [{}]}, "mark": {"type": "rule", "color": "#efefef", "strokeWidth": 1},
 "encoding": {"y": {"datum": 0.75, "type": "quantitative"}, "x": {"datum": 8, "type": "quantitative"}, "x2": {"datum": 10}}},
{"data": {"values": [{}]}, "mark": {"type": "rule", "color": "#efefef", "strokeWidth": 1},
 "encoding": {"y": {"datum": 0.85, "type": "quantitative"}, "x": {"datum": 8, "type": "quantitative"}, "x2": {"datum": 10}}},
{"data": {"values": [{}]}, "mark": {"type": "rule", "color": "#efefef", "strokeWidth": 1},
 "encoding": {"y": {"datum": 0.95, "type": "quantitative"}, "x": {"datum": 8, "type": "quantitative"}, "x2": {"datum": 10}}},
{"data": {"values": [{}]}, "mark": {"type": "rule", "color": "#d4d4d4", "strokeWidth": 1},
 "encoding": {"y": {"datum": 0.8, "type": "quantitative"}, "x": {"datum": 8, "type": "quantitative"}, "x2": {"datum": 10}}},
{"data": {"values": [{}]}, "mark": {"type": "rule", "color": "#d4d4d4", "strokeWidth": 1},
 "encoding": {"y": {"datum": 0.9, "type": "quantitative"}, "x": {"datum": 8, "type": "quantitative"}, "x2": {"datum": 10}}},
{"data": {"values": [{}]}, "mark": {"type": "rect", "filled": false, "stroke": "#9a9a9a", "strokeWidth": 1.2},
 "encoding": {"x": {"datum": 8, "type": "quantitative"}, "x2": {"datum": 10}, "y": {"datum": 0.7, "type": "quantitative"}, "y2": {"datum": 1.0}}},
{
"data": {"name": "ln"},
"transform": [{"filter": "datum.t >= 8"}],
"mark": {"type": "line", "strokeWidth": 2, "interpolate": "monotone"},
"encoding": {
"x": {"field": "t", "type": "quantitative",
 "axis": {"orient": "bottom", "offset": -86, "values": [8, 8.5, 9, 9.5, 10], "labelExpr": "datum.value % 1 === 0 ? format(datum.value, 'd') : ''", "labelFlush": false, "labelOverlap": false, "labelFont": "Liberation Sans", "labelFontSize": 17, "labelFontWeight": "bold", "labelPadding": 3, "tickSize": 4, "tickWidth": 1, "domainWidth": 1.5, "grid": false, "title": null, "zindex": 2}},
"y": {"field": "v", "type": "quantitative",
 "axis": {"orient": "left", "offset": -355, "values": [0.7, 0.75, 0.8, 0.85, 0.9, 0.95, 1.0], "labelExpr": "round(datum.value*20) % 2 === 0 ? format(datum.value, '.1f') : ''", "labelFlush": false, "labelOverlap": false, "labelFont": "Liberation Sans", "labelFontSize": 17, "labelFontWeight": "bold", "labelPadding": 3, "tickSize": 4, "tickWidth": 1, "domainWidth": 1.5, "grid": false, "title": null, "zindex": 2}},
"color": {"field": "s", "type": "nominal"}
}
},
{"data": {"name": "im"}, "transform": [{"filter": "datum.s === '0CP-2FVG'"}], "mark": {"type": "point", "shape": "square", "filled": true, "size": 130, "opacity": 1},
 "encoding": {"x": {"field": "t", "type": "quantitative"}, "y": {"field": "v", "type": "quantitative"}, "color": {"field": "s", "type": "nominal"}}},
{"data": {"name": "im"}, "transform": [{"filter": "datum.s === '0CP-3FVG'"}], "mark": {"type": "point", "shape": "circle", "filled": true, "size": 140, "opacity": 1},
 "encoding": {"x": {"field": "t", "type": "quantitative"}, "y": {"field": "v", "type": "quantitative"}, "color": {"field": "s", "type": "nominal"}}},
{"data": {"name": "im"}, "transform": [{"filter": "datum.s === '0CP-4FVG'"}], "mark": {"type": "point", "shape": "triangle-up", "filled": true, "size": 150, "opacity": 1},
 "encoding": {"x": {"field": "t", "type": "quantitative"}, "y": {"field": "v", "type": "quantitative"}, "color": {"field": "s", "type": "nominal"}}},
{"data": {"name": "im"}, "transform": [{"filter": "datum.s === '2CP-2FVG'"}], "mark": {"type": "point", "shape": "triangle-down", "filled": true, "size": 150, "opacity": 1},
 "encoding": {"x": {"field": "t", "type": "quantitative"}, "y": {"field": "v", "type": "quantitative"}, "color": {"field": "s", "type": "nominal"}}},
{"data": {"name": "im"}, "transform": [{"filter": "datum.s === '2CP-3FVG'"}], "mark": {"type": "point", "shape": "diamond", "filled": true, "size": 140, "opacity": 1},
 "encoding": {"x": {"field": "t", "type": "quantitative"}, "y": {"field": "v", "type": "quantitative"}, "color": {"field": "s", "type": "nominal"}}}
]
}
],
"resolve": {"scale": {"x": "independent", "y": "independent"}}
}
